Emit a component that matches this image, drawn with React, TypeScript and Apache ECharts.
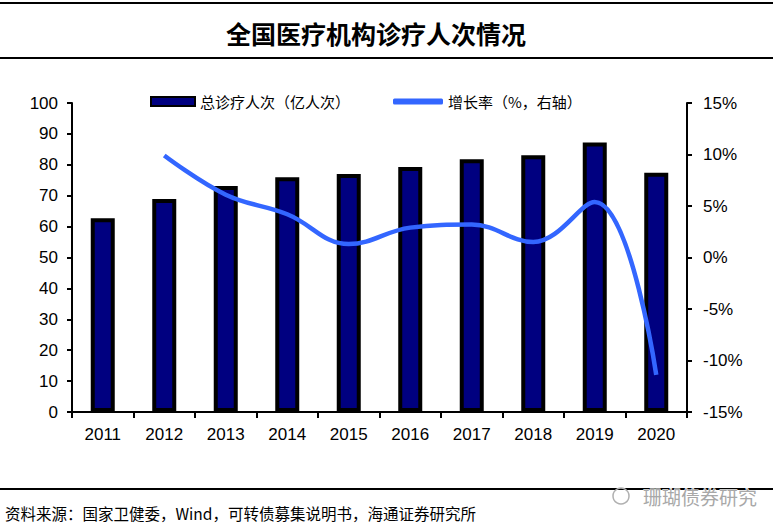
import React, { useEffect, useRef } from "react";
import * as echarts from "echarts";

const years = ["2011", "2012", "2013", "2014", "2015", "2016", "2017", "2018", "2019", "2020"];
const visits = [62.7, 68.9, 73.1, 76.0, 77.0, 79.3, 81.8, 83.1, 87.2, 77.4];
const growth = [null, 9.9, 6.1, 4.2, 1.3, 2.9, 3.2, 1.5, 5.4, -11.4];

const barName = "总诊疗人次（亿人次）";
const lineName = "增长率（%，右轴）";
const titleText = "全国医疗机构诊疗人次情况";
const sourceText = "资料来源：国家卫健委，Wind，可转债募集说明书，海通证券研究所";
const watermarkText = "珊瑚债券研究";

const numFont = "'Liberation Sans', Arial, sans-serif";
const cjkFont = "'Noto Sans CJK SC', sans-serif";

export default function App() {
  const ref = useRef<HTMLDivElement>(null);
  useEffect(() => {
    const chart = echarts.init(ref.current!, null, { renderer: "svg" });
    chart.setOption({
      animation: false,
      backgroundColor: "#ffffff",
      grid: { left: 72, right: 86, top: 103, bottom: 119, containLabel: false },
      legend: [
        {
          left: 145,
          top: 89,
          itemWidth: 44,
          itemHeight: 9,
          itemGap: 4,
          data: [{ name: barName, icon: "rect" }],
          textStyle: { fontSize: 15, fontFamily: cjkFont, color: "#000" },
        },
        {
          left: 388,
          top: 89,
          itemWidth: 50,
          itemHeight: 6,
          data: [{ name: lineName, icon: "roundRect" }],
          textStyle: { fontSize: 15, fontFamily: cjkFont, color: "#000" },
        },
      ],
      xAxis: {
        type: "category",
        data: years,
        axisLine: { lineStyle: { color: "#000", width: 2 } },
        axisTick: { show: true, length: 6, lineStyle: { color: "#000", width: 2 } },
        axisLabel: { fontSize: 17, fontFamily: numFont, color: "#000", margin: 14 },
      },
      yAxis: [
        {
          type: "value",
          min: 0,
          max: 100,
          interval: 10,
          splitLine: { show: false },
          axisLine: { show: true, lineStyle: { color: "#000", width: 2 } },
          axisTick: { show: true, length: 5, lineStyle: { color: "#000", width: 2 } },
          axisLabel: { fontSize: 17, fontFamily: numFont, color: "#000", margin: 14 },
        },
        {
          type: "value",
          min: -15,
          max: 15,
          interval: 5,
          position: "right",
          splitLine: { show: false },
          axisLine: { show: true, lineStyle: { color: "#000", width: 2 } },
          axisTick: { show: true, length: 5, lineStyle: { color: "#000", width: 2 } },
          axisLabel: {
            fontSize: 17,
            fontFamily: numFont,
            color: "#000",
            margin: 16,
            formatter: "{value}%",
          },
        },
      ],
      series: [
        {
          name: barName,
          type: "bar",
          data: visits,
          barWidth: 24,
          itemStyle: { color: "#000080", borderColor: "#000", borderWidth: 4 },
        },
        {
          name: lineName,
          type: "line",
          yAxisIndex: 1,
          data: growth,
          smooth: 0.4,
          symbol: "none",
          lineStyle: { color: "#3366ff", width: 4.5 },
          itemStyle: { color: "#3366ff" },
        },
      ],
      graphic: [
        { type: "line", shape: { x1: 0, y1: 3, x2: 773, y2: 3 }, style: { stroke: "#000", lineWidth: 2 } },
        { type: "line", shape: { x1: 0, y1: 58, x2: 773, y2: 58 }, style: { stroke: "#000", lineWidth: 2 } },
        {
          type: "text",
          x: 376,
          y: 33,
          style: {
            text: titleText,
            fontSize: 25,
            fontWeight: "bold",
            fontFamily: cjkFont,
            fill: "#000",
            align: "center",
            verticalAlign: "middle",
          },
        },
        { type: "line", shape: { x1: 0, y1: 489, x2: 773, y2: 489 }, style: { stroke: "#000", lineWidth: 2 } },
        {
          type: "text",
          x: 5,
          y: 513,
          style: {
            text: sourceText,
            fontSize: 15.5,
            fontFamily: cjkFont,
            fill: "#000",
            align: "left",
            verticalAlign: "middle",
          },
        },
        {
          type: "circle",
          shape: { cx: 621, cy: 496, r: 8 },
          style: { fill: "none", stroke: "#b0b0b0", lineWidth: 1.5 },
        },
        {
          type: "text",
          x: 757,
          y: 496,
          style: {
            text: watermarkText,
            fontSize: 19,
            fontFamily: cjkFont,
            fill: "#a8a8a8",
            stroke: "#ffffff",
            lineWidth: 1,
            align: "right",
            verticalAlign: "middle",
          },
        },
      ],
    });
    return () => chart.dispose();
  }, []);
  return (
    <div
      ref={ref}
      style={{ position: "fixed", left: 0, top: 0, width: 773, height: 531, background: "#fff" }}
    />
  );
}
